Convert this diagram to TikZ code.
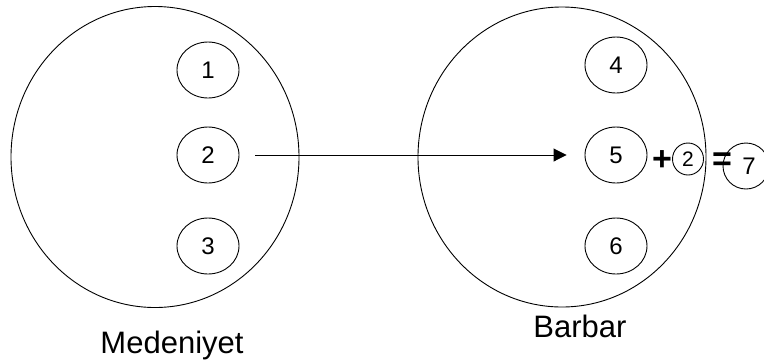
\documentclass[tikz,border=0pt]{standalone}
\usepackage{fontspec}
\setmainfont{Liberation Sans}
\usetikzlibrary{shapes.geometric,arrows.meta}
\begin{document}
\begin{tikzpicture}[x=1pt,y=-1pt,
  big/.style={draw,ellipse,line width=0.9pt,minimum width=288pt,minimum height=301pt,inner sep=0pt},
  small/.style={draw,ellipse,line width=0.9pt,minimum width=62pt,minimum height=56pt,inner sep=0pt,font=\fontsize{24}{24}\selectfont},
  tiny/.style={draw,ellipse,line width=0.9pt,minimum width=31pt,minimum height=32pt,inner sep=0pt,font=\fontsize{21}{21}\selectfont},
  lbl/.style={font=\fontsize{31}{31}\selectfont,inner sep=0pt,anchor=base},
  sym/.style={font=\fontsize{34}{34}\selectfont\bfseries,inner sep=0pt},
  conn/.style={line width=0.9pt,-{Triangle[length=13pt,width=13pt]}}]
\path[use as bounding box,clip] (0,0) rectangle (764,360);
\fill[white] (0,0) rectangle (764,360);
% big circles
\node[big] (civ) at (155,157) {};
\node[big,minimum height=300pt] (barb) at (562,157) {};
% small circles
\node[small] (c1) at (208,70) {1};
\node[small] (c2) at (208,155) {2};
\node[small] (c3) at (208,246) {3};
\node[small] (c4) at (616,65) {4};
\node[small] (c5) at (616,155) {5};
\node[small] (c6) at (616,246) {6};
\node[tiny] (t2) at (688,159) {2};
\node[small,minimum width=46pt,minimum height=46pt] (c7) at (746,166) {\hspace{6pt}7};
% symbols
\node[sym] (plus) at (662,161) {+};
\node[sym] (eq) at (722,162) {=};
% labels
\node[lbl] (lciv) at (172,353) {Medeniyet};
\node[lbl] (lbarb) at (580,337) {Barbar};
% arrow
\draw[conn,shorten <=16pt,shorten >=18pt] (c2.east) -- (c5.west);
\end{tikzpicture}
\end{document}
